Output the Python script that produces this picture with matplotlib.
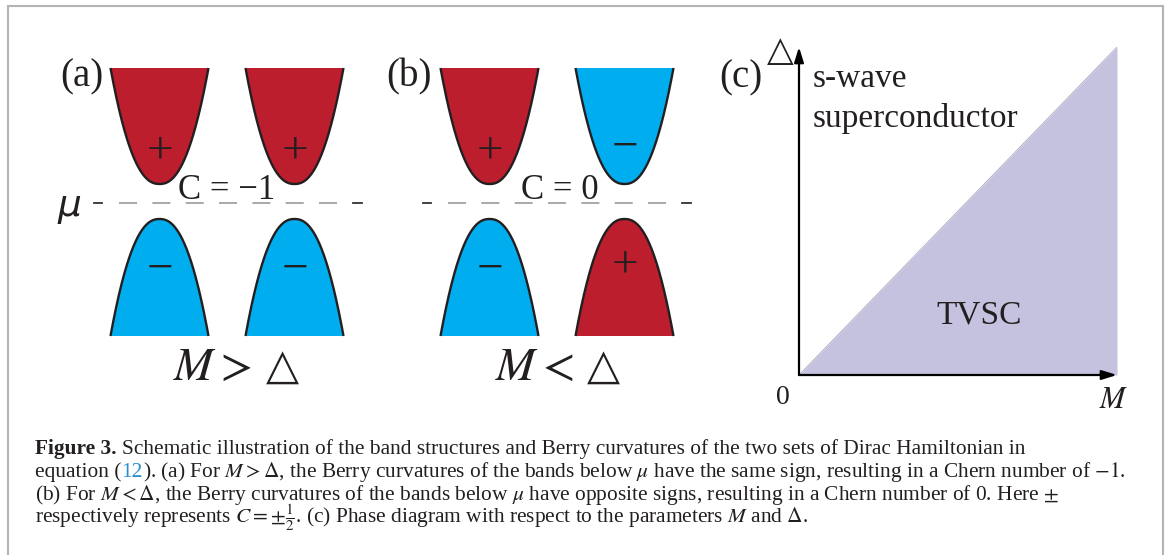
import numpy as np
import matplotlib
matplotlib.use("Agg")
import matplotlib.pyplot as plt

plt.rcParams['mathtext.fontset'] = 'stix'
plt.rcParams['font.family'] = ['Liberation Serif', 'DejaVu Serif']
plt.rcParams['lines.scale_dashes'] = False

W, H, DPI = 1165, 555, 100

# ---- content -------------------------------------------------------------
panel_labels = ['(a)', '(b)', '(c)']
# Berry-curvature sign of each band (left Dirac cone, right Dirac cone)
upper_signs = {'a': [+1, +1], 'b': [+1, -1]}
lower_signs = {'a': [-1, -1], 'b': [-1, +1]}
chern_numbers = {'a': -1, 'b': 0}
regime_relations = {'a': r'$M >$', 'b': r'$M <$'}
DELTA_SYMBOL = '\u25b3'

# phase diagram (c): boundary Delta = M on the unit square
boundary_M = [0.0, 1.0]
boundary_Delta = [0.0, 1.0]
phase_upper = ['s-wave', 'superconductor']
phase_lower = 'TVSC'

caption = [
    [("Figure 3.", dict(fontweight='bold'), 5),
     ("Schematic illustration of the band structures and Berry curvatures "
      "of the two sets of Dirac Hamiltonian in", {}, 0)],
    [("equation (", {}, 0), ("12", dict(color='#2a8fd0'), 0),
     (r"). (a) For $M > \Delta$, the Berry curvatures of the bands below $\mu$ "
      r"have the same sign, resulting in a Chern number of $-1$.", {}, 0)],
    [(r"(b) For $M < \Delta$, the Berry curvatures of the bands below $\mu$ have "
      r"opposite signs, resulting in a Chern number of 0. Here $\pm$", {}, 0)],
    [(r"respectively represents $C = \pm\frac{1}{2}$. (c) Phase diagram with "
      r"respect to the parameters $M$ and $\Delta$.", {}, 0)],
]

RED = '#BC1E2E'
BLUE = '#00AEEF'
INK = '#231f20'
LAVENDER = '#C4C2DE'

# ---- figure: one pixel-scaled canvas axes --------------------------------
fig = plt.figure(figsize=(W / DPI, H / DPI), dpi=DPI)
ax = fig.add_axes([0, 0, 1, 1])
ax.set_xlim(0, W)
ax.set_ylim(H, 0)
ax.axis('off')
ax.set_zorder(3)

# frame around the figure
ax.plot([8, 8, 1163, 1163], [H, 6, 6, H], color='#b4b4b4', lw=1.5,
        solid_joinstyle='miter')

# baseline offsets of the sign marks from the band tip
SIGN_OFFSET = {('up', 1): -21, ('up', -1): -24, ('lo', 1): 58, ('lo', -1): 63}


def draw_band(xc, y_tip, y_edge, sign, half_w=49, p=2.3):
    t = np.linspace(-1, 1, 301)
    x = xc + half_w * t
    y = y_tip + (y_edge - y_tip) * np.abs(t) ** p
    ax.fill(x, y, color=RED if sign > 0 else BLUE, lw=0, zorder=2)
    ax.plot(x, y, color=INK, lw=1.7, zorder=3, solid_capstyle='butt')
    mark = '+' if sign > 0 else '\u2212'
    kind = 'up' if y_edge < y_tip else 'lo'
    ax.text(xc, y_tip + SIGN_OFFSET[(kind, sign)], mark, ha='center',
            va='baseline', fontsize=34, color=INK, zorder=4)


def draw_mu_line(x0, x1, y=203):
    ax.plot([x0 + 25, x1 - 25], [y, y], color='#a3a3a3', lw=1.3,
            dashes=(13, 11))
    for xa, xb in ((x0, x0 + 8), (x1 - 9, x1)):
        ax.plot([xa, xb], [y, y], color='#333333', lw=1.3)


panels = {'a': dict(cx=[159.5, 294.5], label_x=82, dash=(94, 362),
                    c_x=227, rel_x=173, tri_x=282),
          'b': dict(cx=[489.5, 624.5], label_x=409, dash=(423, 691),
                    c_x=560, rel_x=495, tri_x=603)}

for key, lab in zip(['a', 'b'], panel_labels[:2]):
    P = panels[key]
    for xc, s in zip(P['cx'], upper_signs[key]):
        draw_band(xc, 184, 68, s)
    for xc, s in zip(P['cx'], lower_signs[key]):
        draw_band(xc, 219, 336, s)
    draw_mu_line(*P['dash'])
    ax.text(P['label_x'], 86, lab, ha='center', va='baseline', fontsize=28,
            color=INK)
    c_txt = f"C = {chern_numbers[key]}".replace('-', '\u2212')
    ax.text(P['c_x'], 199, c_txt, ha='center', va='baseline', fontsize=25,
            color=INK, zorder=5)
    ax.text(P['rel_x'], 380, regime_relations[key], ha='left',
            va='baseline', fontsize=34, color=INK)
    ax.text(P['tri_x'], 379, DELTA_SYMBOL, ha='center', va='baseline',
            fontsize=31, family='DejaVu Sans', color=INK)

ax.text(69, 216, '\u03bc', ha='center', va='baseline', fontsize=27,
        family='DejaVu Sans', style='italic', color=INK)

# ---- panel (c): phase diagram --------------------------------------------
x0p, x1p, y0p, y1p = 799, 1117, 375, 47
axc = fig.add_axes([x0p / W, (H - y0p) / H, (x1p - x0p) / W, (y0p - y1p) / H])
axc.set_zorder(1)
axc.set_xlim(0, 1)
axc.set_ylim(0, 1)
axc.axis('off')
axc.fill_between(boundary_M, 0, boundary_Delta, color=LAVENDER, lw=0)
axc.plot(boundary_M, boundary_Delta, color='#a8a6c0', lw=0.6)
arrow = dict(arrowstyle='-|>,head_length=0.9,head_width=0.28', lw=1.6,
             color='black', shrinkA=0, shrinkB=0, mutation_scale=10)
axc.annotate('', xy=(1, 0), xytext=(0, 0), arrowprops=arrow,
             annotation_clip=False)
axc.annotate('', xy=(0, 1), xytext=(0, 0), arrowprops=arrow,
             annotation_clip=False)

ax.text(741, 87, panel_labels[2], ha='center', va='baseline', fontsize=28,
        color=INK)
ax.text(780, 61, DELTA_SYMBOL, ha='center', va='baseline', fontsize=25,
        family='DejaVu Sans', color=INK)
ax.text(813, 87, phase_upper[0], ha='left', va='baseline', fontsize=24,
        color=INK)
ax.text(813, 127, phase_upper[1], ha='left', va='baseline', fontsize=24,
        color=INK)
ax.text(979, 323, phase_lower, ha='center', va='baseline', fontsize=24,
        color=INK)
ax.text(783, 404, '0', ha='center', va='baseline', fontsize=20, color=INK)
ax.text(1114, 408, r'$M$', ha='center', va='baseline', fontsize=22,
        color=INK)

# ---- caption --------------------------------------------------------------
CAP_FS = 15.4
renderer = fig.canvas.get_renderer()
for baseline, segments in zip([454, 477, 500, 523], caption):
    x = 35
    for txt, kw, gap in segments:
        t = ax.text(x, baseline, txt, ha='left', va='baseline',
                    fontsize=CAP_FS, color=kw.get('color', INK),
                    fontweight=kw.get('fontweight', 'normal'))
        x += t.get_window_extent(renderer).width + gap

fig.savefig('out.png', dpi=DPI)
